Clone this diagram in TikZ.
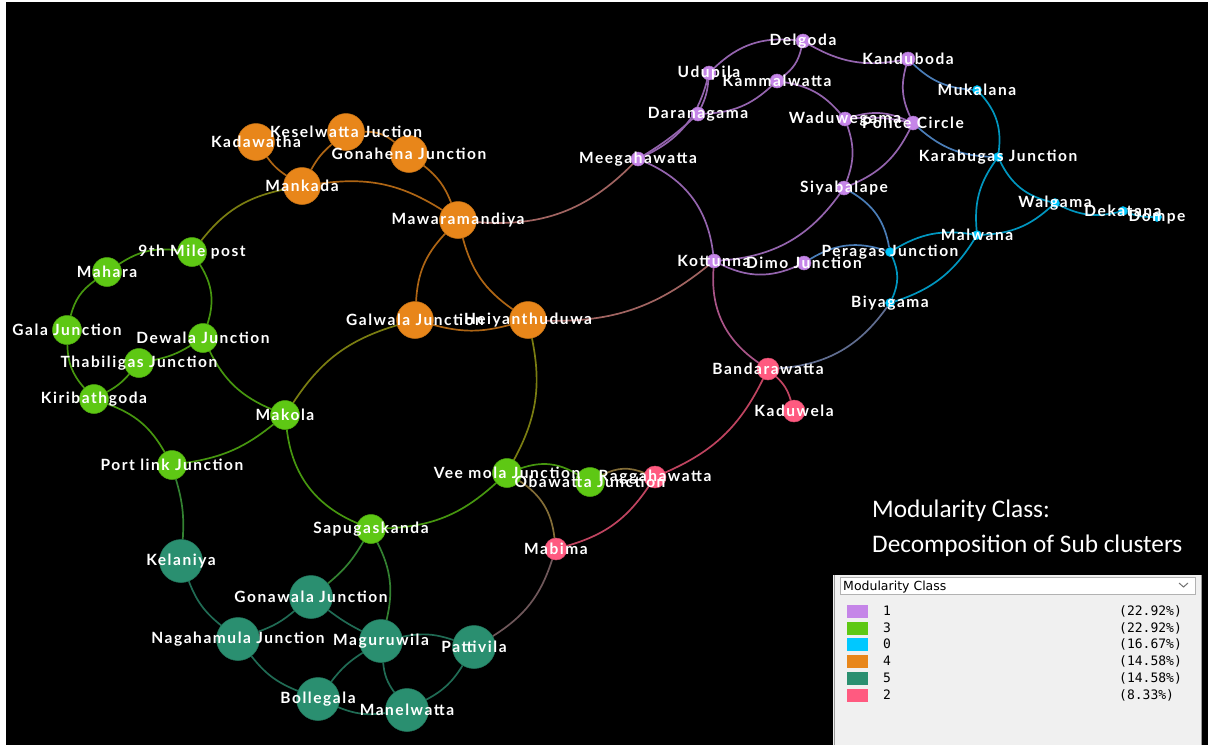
\documentclass[tikz,border=0pt]{standalone}
\usepackage{fontspec}
\newfontfamily\lblfont[LetterSpace=10]{Lato}
\newfontfamily\titlefont{Carlito}
\newfontfamily\panelfont{DejaVu Sans}
\newfontfamily\panelmono{DejaVu Sans Mono}
\definecolor{modpurple}{RGB}{197,133,232}
\definecolor{modgreen}{RGB}{94,200,20}
\definecolor{modcyan}{RGB}{0,200,255}
\definecolor{modorange}{RGB}{232,134,26}
\definecolor{modteal}{RGB}{42,143,112}
\definecolor{modpink}{RGB}{255,90,128}
\definecolor{panelgrey}{RGB}{240,240,240}
\usetikzlibrary{backgrounds}

\tikzset{
  station/.style={circle, inner sep=0pt, fill=#1, draw=#1!85!black, line width=0.5pt},
  stationlabel/.style={text=white, inner sep=0pt,
    font=\lblfont\bfseries\fontsize{15.5}{17}\selectfont},
  link/.style={line width=1.7pt, draw=#1},
  paneltext/.style={inner sep=0pt, font=\panelfont\fontsize{12.5}{14}\selectfont},
  panelnum/.style={inner sep=0pt, font=\panelmono\fontsize{13}{15}\selectfont},
}

\begin{document}
\begin{tikzpicture}[x=1pt,y=-1pt]
  \useasboundingbox (0,0) rectangle (1214,747);

  % stations per modularity class
  \def\purplestations{delg/803/41/Delgoda, udup/709/73/Udupila, kamm/777/81/Kammalwatta,
    dara/698/114/Daranagama, meeg/638/159/Meegahawatta, kand/908/59/Kanduboda,
    wadu/845/119/Waduwegama, poli/913/123/Police Circle, siya/844/188/Siyabalape,
    kott/714/261/Kottunna, dimo/804/263/Dimo Junction}
  \def\cyanstations{muka/977/90/Mukalana, kara/998/157/Karabugas Junction,
    walg/1055/203/Walgama, deka/1123/211/Dekatana, domp/1157/217/Dompe,
    malw/977/235/Malwana, pera/890/252/Peragas Junction, biya/890/303/Biyagama}
  \def\orangestations{kada/256/142/Kadawatha, kese/346/132/Keselwatta Juction,
    gona/409/154/Gonahena Junction, mank/302/186/Mankada, mawa/458/220/Mawaramandiya,
    galw/415/320/Galwala Junction, heiy/528/320/Heiyanthuduwa}
  \def\greenstations{mile/192/252/9th Mile post, maha/107/272/Mahara,
    gala/67/330/Gala Junction, dewa/203/338/Dewala Junction,
    thab/139/363/Thabiligas Junction, kiri/94/399/Kiribathgoda, mako/285/415/Makola,
    port/172/465/Port link Junction, veem/507/473/Vee mola Junction,
    obaw/590/482/Obawatta Junction, sapu/371/529/Sapugaskanda}
  \def\tealstations{kela/181/561/Kelaniya, gonw/311/597/Gonawala Junction,
    naga/238/639/Nagahamula Junction, magu/381/641/Maguruwila, patt/474/647/Pattivila,
    boll/318/699/Bollegala, mane/407/710/Manelwatta}
  \def\pinkstations{band/768/369/Bandarawatta, kadu/794/411/Kaduwela,
    ragg/655/477/Raggahawatta, mabi/556/549/Mabima}

  \foreach \id/\x/\y/\txt in \purplestations \node[station=modpurple, minimum size=14pt] (\id) at (\x,\y) {};
  \foreach \id/\x/\y/\txt in \cyanstations \node[station=modcyan, minimum size=9pt] (\id) at (\x,\y) {};
  \foreach \id/\x/\y/\txt in \orangestations \node[station=modorange, minimum size=37pt] (\id) at (\x,\y) {};
  \foreach \id/\x/\y/\txt in \greenstations \node[station=modgreen, minimum size=29pt] (\id) at (\x,\y) {};
  \foreach \id/\x/\y/\txt in \tealstations \node[station=modteal, minimum size=43pt] (\id) at (\x,\y) {};
  \foreach \id/\x/\y/\txt in \pinkstations \node[station=modpink, minimum size=22pt] (\id) at (\x,\y) {};

  \begin{pgfonlayer}{background}
    % canvas
    \fill[white] (0,0) rectangle (1214,747);
    \fill[black] (6,2) rectangle (1208,745);

    % links: from / to / bend / colour
    \foreach \src/\dst/\bend/\col in {
      delg/udup/-25/modpurple, delg/kamm/20/modpurple, delg/kand/-20/modpurple,
      udup/dara/10/modpurple, udup/meeg/25/modpurple, dara/meeg/5/modpurple,
      kamm/dara/20/modpurple, kamm/wadu/20/modpurple, wadu/siya/20/modpurple,
      wadu/poli/20/modpurple, wadu/poli/8/modpurple, kand/poli/-20/modpurple,
      poli/siya/20/modpurple, meeg/kott/30/modpurple, siya/kott/25/modpurple,
      kott/dimo/-25/modpurple, kott/band/-30/modpurple!50!modpink,
      kand/muka/-20/modpurple!50!modcyan, poli/kara/-20/modpurple!50!modcyan,
      muka/kara/25/modcyan, kara/walg/-25/modcyan, kara/malw/-20/modcyan,
      malw/biya/20/modcyan, malw/walg/-20/modcyan, walg/deka/-20/modcyan,
      deka/domp/-10/modcyan, pera/malw/20/modcyan, pera/biya/25/modcyan,
      siya/pera/25/modpurple!50!modcyan, dimo/pera/25/modpurple!50!modcyan,
      biya/band/25/modcyan!50!modpink,
      band/kadu/15/modpink, band/ragg/20/modpink, ragg/mabi/20/modpink,
      obaw/ragg/25/modgreen!50!modpink, veem/obaw/25/modgreen,
      veem/mabi/25/modgreen!50!modpink, mabi/patt/20/modteal!50!modpink,
      kada/mank/-10/modorange, kese/mank/-10/modorange, kese/gona/20/modorange,
      gona/mawa/15/modorange, mank/mawa/20/modorange, mawa/galw/-20/modorange,
      mawa/heiy/-20/modorange, galw/heiy/-15/modorange,
      mawa/meeg/-25/modorange!50!modpurple, heiy/kott/-20/modorange!50!modpurple,
      mank/mile/-20/modorange!50!modgreen, galw/mako/-20/modorange!50!modgreen,
      heiy/veem/20/modorange!50!modgreen,
      mile/maha/-20/modgreen, mile/dewa/25/modgreen, maha/gala/-20/modgreen,
      gala/kiri/-20/modgreen, kiri/thab/-10/modgreen, thab/dewa/-10/modgreen,
      dewa/mako/-20/modgreen, kiri/port/20/modgreen, port/mako/-15/modgreen,
      mako/sapu/-30/modgreen, sapu/veem/-20/modgreen,
      port/kela/10/modgreen!50!modteal, sapu/gonw/10/modgreen!50!modteal,
      sapu/magu/20/modgreen!50!modteal,
      kela/naga/-15/modteal, naga/gonw/-10/modteal, gonw/magu/-5/modteal,
      naga/boll/-15/modteal, boll/magu/10/modteal, boll/mane/-15/modteal,
      magu/mane/-15/modteal, magu/patt/15/modteal, patt/mane/15/modteal}
      \draw[link=\col!75!black] (\src) to[bend left=\bend] (\dst);
  \end{pgfonlayer}

  % labels on top of everything
  \foreach \id/\x/\y/\txt in \purplestations \node[stationlabel] (\id-txt) at (\id) {\txt};
  \foreach \id/\x/\y/\txt in \cyanstations \node[stationlabel] (\id-txt) at (\id) {\txt};
  \foreach \id/\x/\y/\txt in \orangestations \node[stationlabel] (\id-txt) at (\id) {\txt};
  \foreach \id/\x/\y/\txt in \greenstations \node[stationlabel] (\id-txt) at (\id) {\txt};
  \foreach \id/\x/\y/\txt in \tealstations \node[stationlabel] (\id-txt) at (\id) {\txt};
  \foreach \id/\x/\y/\txt in \pinkstations \node[stationlabel] (\id-txt) at (\id) {\txt};

  % title
  \node[anchor=base west, inner sep=0pt, text=white, font=\titlefont\fontsize{25.3}{28}\selectfont]
    (modtitle) at (872,517) {Modularity Class:};
  \node[anchor=base west, inner sep=0pt, text=white, font=\titlefont\fontsize{25.3}{28}\selectfont]
    (modsub) at (872,552) {Decomposition of Sub clusters};

  % legend panel
  \fill[panelgrey] (833,575) rectangle (1202,745);
  \draw[gray!80] (834,575) -- (834,745);
  \draw[gray!80] (1201,575) -- (1201,745);
  \draw[gray!60, fill=white] (840,577) rectangle (1195,594);
  \node[paneltext, anchor=base west] (panelhead) at (843,590) {Modularity Class};
  \draw[gray!90!black, line width=1pt] (1179,583) -- (1183.5,587) -- (1188,583);
  \foreach \y/\c/\cls/\pct in {611/modpurple/1/22.92, 628/modgreen/3/22.92,
      644/modcyan/0/16.67, 661/modorange/4/14.58, 678/modteal/5/14.58, 695/modpink/2/8.33} {
    \fill[\c] (847,\y-6.5) rectangle (868,\y+6.5);
    \node[panelnum, anchor=west] (cls\cls) at (883,\y) {\cls};
    \node[panelnum, anchor=west] (pct\cls) at (1119,\y) {(\pct\%)};
  }
\end{tikzpicture}
\end{document}
